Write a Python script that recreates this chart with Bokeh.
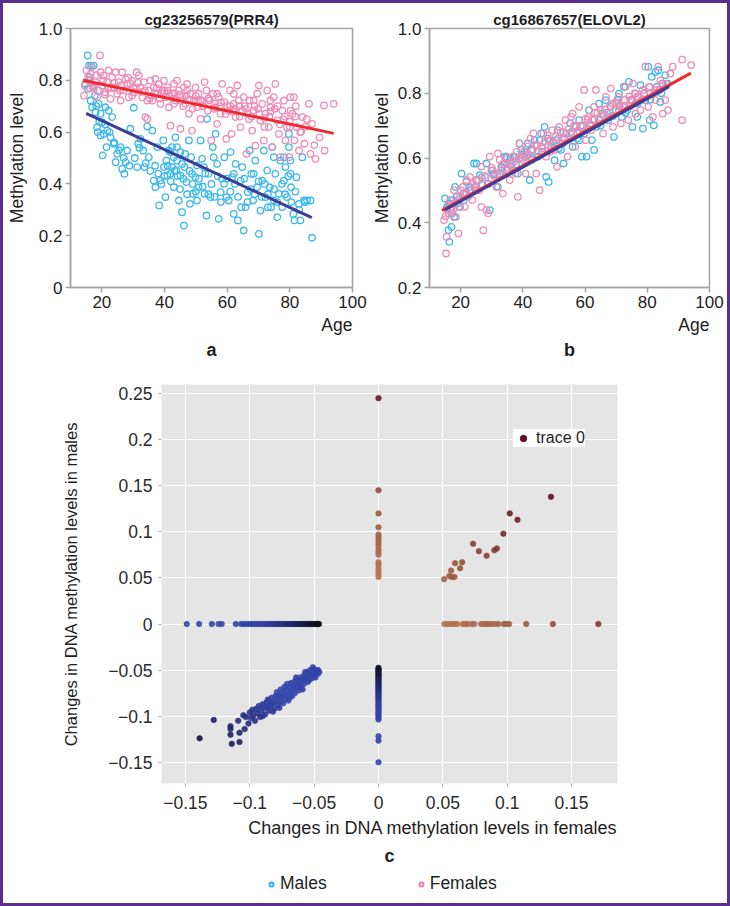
import numpy as np
from bokeh.plotting import figure
from bokeh.layouts import column, row
from bokeh.models import (Title, Legend, LegendItem, FixedTicker, LinearColorMapper,
                          ColumnDataSource, Range1d)
from bokeh.embed import file_html
from bokeh.resources import INLINE

# ---------------- data: panel a (cg23256579 PRR4) ----------------
a_male_age = [15.5, 15.9, 16.6, 17.4, 15.5, 16.4, 16.9, 18.0, 18.5, 18.7, 19.6, 20.3, 21.5, 20.6, 21.7, 21.2,
              23.3, 23.8, 24.4, 24.9, 26.0, 26.5, 27.2, 27.6, 28.1, 29.1, 30.2, 31.3, 31.6, 32.3, 33.2, 33.6,
              34.5, 35.0, 36.1, 36.6, 37.1, 37.7, 38.3, 38.7, 39.6, 40.3, 40.6, 41.4, 41.9, 42.4, 43.0, 43.5,
              44.0, 44.6, 45.1, 45.6, 46.2, 46.4, 47.0, 47.8, 48.1, 48.5, 49.1, 49.9, 50.4, 50.9, 51.5, 52.0,
              52.8, 53.4, 53.6, 54.1, 54.7, 55.4, 56.3, 56.8, 57.3, 57.9, 58.4, 59.1, 59.8, 60.5, 61.1, 61.6,
              62.1, 62.7, 63.4, 64.3, 64.8, 65.3, 65.9, 66.6, 67.2, 67.7, 68.3, 69.0, 69.6, 70.1, 70.6, 71.2,
              71.7, 72.2, 73.0, 73.6, 74.4, 74.9, 75.4, 76.0, 76.5, 77.0, 77.6, 78.1, 78.6, 79.1, 79.7, 80.2,
              80.4, 81.1, 81.5, 82.1, 82.9, 83.4, 84.0, 84.5, 85.5, 86.6, 87.1, 14.8, 16.2, 17.2, 17.8, 19.0,
              19.6, 20.1, 22.2, 22.8, 41.9, 43.0, 44.0, 45.1, 43.8, 45.6, 46.6, 42.4, 40.9, 39.8, 48.8, 50.4,
              52.6, 55.7, 62.1, 68.5, 72.8, 74.9, 78.1, 79.7, 80.2,
              16.0, 17.0, 18.2, 19.2, 21.0, 22.5, 24.0, 25.5, 27.0, 28.8, 30.5, 32.0, 34.0, 35.5, 37.0, 38.0,
              39.0, 40.0, 41.0, 42.0, 43.2, 44.2, 45.0, 46.0, 47.2, 48.0, 49.0, 50.0, 51.0, 52.2, 53.0, 54.0,
              55.0, 56.0, 57.0, 58.0, 59.0, 60.0, 61.0, 62.5, 63.5, 64.5, 65.5, 66.5, 67.5, 68.8, 70.0, 71.0,
              72.0, 73.0, 74.0, 75.0, 76.0, 77.5, 78.5, 79.5, 80.5, 81.8, 83.0, 84.8]
a_male_val = [0.896, 0.857, 0.857, 0.857, 0.767, 0.722, 0.696, 0.677, 0.619, 0.600, 0.587, 0.510, 0.542, 0.593,
              0.606, 0.696, 0.658, 0.555, 0.484, 0.516, 0.542, 0.458, 0.439, 0.484, 0.529, 0.613, 0.694, 0.465,
              0.555, 0.574, 0.529, 0.465, 0.622, 0.503, 0.606, 0.413, 0.387, 0.542, 0.317, 0.413, 0.568, 0.349,
              0.490, 0.529, 0.439, 0.542, 0.387, 0.580, 0.490, 0.336, 0.432, 0.291, 0.239, 0.465, 0.407, 0.568,
              0.323, 0.503, 0.362, 0.426, 0.336, 0.387, 0.568, 0.497, 0.362, 0.278, 0.651, 0.439, 0.349, 0.542,
              0.593, 0.477, 0.265, 0.368, 0.420, 0.503, 0.349, 0.336, 0.523, 0.426, 0.284, 0.477, 0.259, 0.413,
              0.465, 0.220, 0.310, 0.368, 0.529, 0.439, 0.336, 0.490, 0.387, 0.207, 0.297, 0.413, 0.529, 0.349,
              0.310, 0.387, 0.542, 0.336, 0.439, 0.272, 0.362, 0.490, 0.310, 0.413, 0.465, 0.349, 0.593, 0.490,
              0.387, 0.284, 0.259, 0.426, 0.323, 0.259, 0.503, 0.336, 0.336, 0.336, 0.192, 0.786, 0.812, 0.773,
              0.741, 0.709, 0.671, 0.638, 0.683, 0.580, 0.523, 0.503, 0.542, 0.523, 0.452, 0.477, 0.516, 0.465,
              0.432, 0.465, 0.439, 0.471, 0.465, 0.503, 0.439, 0.439, 0.452, 0.503, 0.503, 0.542, 0.439,
              0.800, 0.780, 0.700, 0.640, 0.630, 0.600, 0.560, 0.530, 0.500, 0.470, 0.500, 0.540, 0.480, 0.450,
              0.470, 0.440, 0.400, 0.430, 0.470, 0.410, 0.450, 0.430, 0.380, 0.420, 0.360, 0.450, 0.400, 0.370,
              0.420, 0.390, 0.440, 0.360, 0.400, 0.350, 0.430, 0.330, 0.400, 0.420, 0.370, 0.400, 0.350, 0.310,
              0.420, 0.330, 0.380, 0.360, 0.410, 0.350, 0.400, 0.360, 0.310, 0.380, 0.330, 0.400, 0.360, 0.430,
              0.330, 0.370, 0.300, 0.330]
a_female_age = [14.3, 15.1, 15.9, 16.4, 16.9, 17.4, 18.0, 18.5, 19.4, 19.6, 20.1, 20.6, 21.2, 21.7, 22.2, 22.8,
                23.3, 23.8, 24.4, 24.9, 25.4, 26.0, 26.5, 27.0, 28.1, 28.6, 29.1, 29.7, 30.4, 31.1, 31.8, 32.3,
                32.9, 33.4, 33.9, 34.5, 35.0, 35.5, 36.1, 36.6, 37.1, 37.7, 38.2, 38.7, 39.3, 39.8, 40.3, 40.9,
                41.4, 41.9, 42.4, 43.0, 43.5, 44.0, 44.6, 45.1, 45.6, 46.2, 46.7, 47.2, 47.8, 48.3, 48.8, 49.4,
                49.9, 50.4, 50.9, 51.5, 52.0, 52.8, 53.4, 53.8, 54.5, 54.9, 55.5, 56.3, 56.8, 57.3, 57.9, 58.4,
                59.1, 59.7, 60.3, 60.9, 61.4, 62.1, 62.7, 63.2, 63.7, 64.3, 64.8, 65.3, 66.2, 66.6, 67.2, 68.0,
                68.5, 69.0, 69.6, 70.1, 70.6, 71.2, 71.7, 72.2, 72.8, 73.3, 73.8, 74.4, 74.9, 75.4, 76.0, 76.5,
                77.0, 77.6, 78.1, 78.6, 79.1, 79.8, 80.2, 80.8, 81.3, 81.5, 82.3, 82.9, 84.0, 84.7, 86.1, 86.6,
                87.1, 88.2, 90.9, 91.1, 94.0, 29.7, 34.5, 43.0, 51.5, 56.8, 62.1, 68.5, 73.8, 80.2, 47.2,
                15.6, 17.0, 18.8, 20.9, 23.0, 25.8, 27.7, 30.9, 33.0, 35.8, 37.5, 39.0, 41.0, 42.8, 44.8, 46.0,
                48.0, 50.0, 52.4, 54.0, 55.9, 58.0, 60.0, 61.8, 63.9, 66.0, 67.8, 69.9, 71.9, 73.9, 76.1, 78.0,
                80.0, 81.9, 83.6, 85.4,
                14.5, 16.2, 18.3, 20.4, 22.0, 24.0, 26.3, 28.4, 30.0, 31.5, 33.7, 35.3, 36.9, 38.5, 40.0, 41.6,
                43.3, 45.3, 47.0, 49.0, 50.7, 52.5, 54.2, 56.0, 57.7, 59.5, 61.0, 62.5, 64.0, 65.6, 67.0, 68.7,
                70.3, 71.9, 73.5, 75.2, 76.8, 78.4, 80.0, 81.7, 83.3, 85.0, 87.8, 89.5]
a_female_val = [0.741, 0.838, 0.799, 0.825, 0.851, 0.767, 0.793, 0.735, 0.896, 0.831, 0.780, 0.819, 0.754, 0.793,
                0.838, 0.728, 0.812, 0.773, 0.831, 0.748, 0.793, 0.722, 0.831, 0.761, 0.786, 0.735, 0.786, 0.799,
                0.754, 0.831, 0.819, 0.773, 0.735, 0.793, 0.658, 0.651, 0.761, 0.799, 0.722, 0.773, 0.805, 0.748,
                0.786, 0.709, 0.761, 0.799, 0.735, 0.773, 0.696, 0.625, 0.748, 0.786, 0.722, 0.799, 0.761, 0.613,
                0.735, 0.773, 0.709, 0.786, 0.671, 0.748, 0.606, 0.722, 0.773, 0.696, 0.748, 0.651, 0.722, 0.793,
                0.761, 0.683, 0.722, 0.568, 0.748, 0.696, 0.632, 0.735, 0.671, 0.786, 0.716, 0.574, 0.683, 0.761,
                0.593, 0.709, 0.658, 0.780, 0.722, 0.619, 0.683, 0.735, 0.516, 0.671, 0.722, 0.606, 0.683, 0.548,
                0.748, 0.780, 0.645, 0.709, 0.568, 0.671, 0.761, 0.619, 0.696, 0.542, 0.735, 0.786, 0.645, 0.593,
                0.503, 0.683, 0.722, 0.568, 0.619, 0.503, 0.735, 0.671, 0.735, 0.568, 0.619, 0.529, 0.658, 0.555,
                0.709, 0.516, 0.632, 0.497, 0.703, 0.529, 0.709, 0.741, 0.722, 0.709, 0.722, 0.748, 0.748, 0.722,
                0.722, 0.683, 0.761,
                0.812, 0.780, 0.760, 0.745, 0.770, 0.760, 0.805, 0.770, 0.755, 0.740, 0.770, 0.750, 0.760, 0.730,
                0.745, 0.700, 0.725, 0.740, 0.700, 0.730, 0.690, 0.715, 0.700, 0.680, 0.700, 0.690, 0.660, 0.690,
                0.655, 0.680, 0.700, 0.650, 0.640, 0.700, 0.600, 0.650,
                0.780, 0.770, 0.820, 0.800, 0.770, 0.790, 0.780, 0.810, 0.770, 0.790, 0.760, 0.730, 0.750, 0.730,
                0.760, 0.740, 0.750, 0.720, 0.740, 0.690, 0.720, 0.700, 0.730, 0.710, 0.700, 0.670, 0.700, 0.690,
                0.660, 0.700, 0.650, 0.700, 0.670, 0.620, 0.660, 0.690, 0.630, 0.660, 0.620, 0.660, 0.600, 0.620,
                0.550, 0.580]
a_fit_male_age = [15, 87]
a_fit_male_val = [0.672, 0.270]
a_fit_female_age = [14, 94]
a_fit_female_val = [0.800, 0.595]

# ---------------- data: panel b (cg16867657 ELOVL2) ----------------
b_male_age = [15.0, 15.5, 16.1, 16.4, 17.1, 17.5, 17.9, 18.7, 19.8, 20.9, 21.9, 23.0, 24.3, 25.1, 26.2, 27.0,
              28.3, 29.4, 29.9, 31.0, 32.0, 33.1, 34.2, 35.2, 36.3, 37.4, 38.4, 39.5, 40.6, 41.6, 42.2, 42.7,
              43.8, 44.8, 45.9, 47.0, 47.5, 48.3, 49.1, 50.2, 51.2, 52.3, 53.1, 53.9, 55.2, 56.0, 57.1, 58.1,
              59.0, 59.7, 60.5, 61.3, 62.2, 62.9, 63.7, 64.5, 65.6, 66.7, 67.5, 68.3, 69.3, 70.4, 70.9, 71.8,
              72.5, 73.6, 74.1, 75.2, 76.2, 76.8, 77.8, 78.6, 79.4, 80.3, 80.8, 81.4, 82.1, 82.6, 83.5, 84.2,
              85.0, 85.8, 16.6, 18.2, 20.3, 25.1, 34.7, 38.9, 45.4, 50.7, 58.1, 64.5, 70.9, 76.2,
              15.8, 17.3, 19.0, 21.0, 22.8, 24.8, 26.8, 28.8, 30.4, 32.6, 34.0, 36.0, 37.8, 39.8, 41.2, 43.0,
              44.5, 46.2, 48.0, 49.8, 51.5, 53.5, 55.6, 57.5, 59.3, 61.0, 63.0, 65.0, 67.0, 69.0, 71.0, 73.0,
              75.0, 77.0, 79.0, 81.0, 83.0, 84.6, 86.5]
b_male_val = [0.475, 0.444, 0.377, 0.341, 0.387, 0.470, 0.418, 0.480, 0.449, 0.490, 0.526, 0.511, 0.583, 0.532,
              0.547, 0.516, 0.583, 0.439, 0.562, 0.552, 0.511, 0.573, 0.604, 0.562, 0.573, 0.604, 0.552, 0.625,
              0.604, 0.645, 0.532, 0.625, 0.655, 0.604, 0.676, 0.696, 0.542, 0.526, 0.635, 0.593, 0.686, 0.625,
              0.583, 0.676, 0.707, 0.635, 0.696, 0.717, 0.604, 0.676, 0.604, 0.748, 0.655, 0.625, 0.696, 0.768,
              0.737, 0.779, 0.717, 0.758, 0.665, 0.779, 0.799, 0.727, 0.820, 0.748, 0.835, 0.696, 0.799, 0.727,
              0.825, 0.691, 0.779, 0.882, 0.717, 0.851, 0.701, 0.866, 0.871, 0.773, 0.830, 0.856, 0.459, 0.511,
              0.552, 0.583, 0.604, 0.645, 0.655, 0.655, 0.655, 0.717, 0.748, 0.768,
              0.450, 0.430, 0.460, 0.470, 0.500, 0.510, 0.540, 0.520, 0.550, 0.550, 0.580, 0.600, 0.580, 0.610,
              0.620, 0.600, 0.640, 0.620, 0.660, 0.650, 0.630, 0.660, 0.680, 0.660, 0.700, 0.690, 0.720, 0.700,
              0.740, 0.730, 0.760, 0.740, 0.780, 0.770, 0.800, 0.780, 0.820, 0.800, 0.830]
b_female_age = [14.7, 15.3, 15.5, 16.1, 16.6, 17.1, 17.9, 18.5, 19.3, 19.8, 20.7, 21.4, 21.9, 23.0, 23.8, 24.6,
                25.7, 26.7, 27.3, 28.3, 28.9, 29.4, 30.4, 31.5, 32.6, 33.6, 34.7, 35.8, 36.8, 37.7, 38.4, 39.0,
                40.0, 40.9, 41.6, 42.7, 43.4, 44.3, 45.4, 45.9, 46.6, 47.5, 48.6, 49.4, 50.2, 51.0, 51.7, 52.8,
                53.7, 54.4, 55.2, 56.0, 56.9, 57.6, 58.1, 59.0, 59.7, 60.3, 61.1, 61.9, 62.9, 63.5, 64.3, 65.1,
                65.8, 66.7, 67.5, 68.3, 69.0, 69.9, 70.7, 71.5, 72.2, 73.0, 73.9, 74.6, 75.4, 76.2, 77.1, 77.8,
                78.6, 79.4, 80.3, 81.0, 81.8, 82.6, 83.5, 84.2, 85.0, 85.8, 86.7, 87.4, 88.2, 91.2, 91.2, 94.1,
                21.9, 26.7, 32.0, 36.8, 43.2, 49.6, 55.5, 62.4, 68.8, 75.2,
                16.0, 17.6, 19.0, 20.2, 22.5, 24.0, 25.2, 27.8, 29.0, 30.8, 33.0, 34.2, 35.4, 37.2, 38.8, 40.4,
                42.0, 44.0, 45.0, 47.0, 48.2, 50.6, 52.2, 53.2, 54.8, 57.0, 58.6, 60.8, 62.0, 64.0, 66.2, 68.0,
                70.2, 72.8, 74.2, 76.8, 79.0, 80.8, 83.0, 84.8,
                15.2, 16.8, 18.0, 19.6, 21.2, 23.4, 25.0, 26.0, 28.0, 30.0, 31.8, 33.4, 35.0, 36.5, 38.0, 39.6,
                41.2, 42.4, 44.6, 46.4, 48.0, 49.0, 51.4, 53.0, 54.6, 56.4, 58.2, 60.0, 61.6, 63.2, 64.8, 66.4,
                68.0, 69.6, 71.2, 72.8, 74.4, 76.0, 78.2, 80.6, 82.2, 84.0, 86.0]
b_female_val = [0.408, 0.305, 0.357, 0.429, 0.470, 0.449, 0.501, 0.418, 0.367, 0.480, 0.511, 0.449, 0.490, 0.542,
                0.470, 0.511, 0.532, 0.449, 0.377, 0.439, 0.429, 0.604, 0.562, 0.511, 0.594, 0.490, 0.562, 0.532,
                0.604, 0.552, 0.480, 0.645, 0.594, 0.552, 0.635, 0.594, 0.676, 0.552, 0.501, 0.635, 0.676, 0.604,
                0.655, 0.686, 0.625, 0.573, 0.696, 0.645, 0.717, 0.604, 0.676, 0.737, 0.635, 0.676, 0.758, 0.696,
                0.810, 0.655, 0.727, 0.686, 0.758, 0.810, 0.707, 0.748, 0.676, 0.789, 0.727, 0.815, 0.696, 0.748,
                0.789, 0.707, 0.758, 0.820, 0.717, 0.779, 0.830, 0.737, 0.789, 0.748, 0.810, 0.882, 0.758, 0.799,
                0.727, 0.779, 0.882, 0.840, 0.737, 0.779, 0.748, 0.861, 0.882, 0.904, 0.717, 0.887, 0.532, 0.573,
                0.614, 0.562, 0.625, 0.645, 0.727, 0.717, 0.768, 0.779,
                0.455, 0.440, 0.470, 0.500, 0.480, 0.520, 0.500, 0.545, 0.520, 0.545, 0.560, 0.585, 0.570, 0.590,
                0.600, 0.620, 0.610, 0.640, 0.620, 0.650, 0.640, 0.665, 0.680, 0.660, 0.690, 0.700, 0.700, 0.720,
                0.700, 0.740, 0.730, 0.760, 0.770, 0.760, 0.790, 0.790, 0.800, 0.820, 0.810, 0.830,
                0.420, 0.440, 0.460, 0.450, 0.490, 0.500, 0.530, 0.500, 0.540, 0.570, 0.550, 0.580, 0.600, 0.580,
                0.620, 0.600, 0.610, 0.660, 0.640, 0.630, 0.670, 0.620, 0.660, 0.680, 0.660, 0.700, 0.680, 0.720,
                0.700, 0.740, 0.720, 0.750, 0.740, 0.770, 0.760, 0.780, 0.760, 0.800, 0.780, 0.820, 0.800, 0.810,
                0.830]
b_fit_male_age = [15, 87]
b_fit_male_val = [0.440, 0.820]
b_fit_female_age = [14, 94]
b_fit_female_val = [0.438, 0.862]

age_ticks = [20, 40, 60, 80, 100]
a_yticks = [0, 0.2, 0.4, 0.6, 0.8, 1.0]
a_ylabels = ["0", "0.2", "0.4", "0.6", "0.8", "1.0"]
b_yticks = [0.2, 0.4, 0.6, 0.8, 1.0]
b_ylabels = ["0.2", "0.4", "0.6", "0.8", "1.0"]

# ---------------- data: panel c (changes females vs males) ----------------
c_rowneg_x = [-0.149, -0.1394, -0.1295, -0.1243, -0.1218, -0.1109, -0.1068, -0.1049, -0.1031, -0.1012, -0.0996,
              -0.0981, -0.0962, -0.0948, -0.0931, -0.0917, -0.0899, -0.0884, -0.0869, -0.0851, -0.0838, -0.0822,
              -0.0806, -0.0791, -0.0777, -0.0760, -0.0746, -0.0731, -0.0717, -0.0702, -0.0688, -0.0672, -0.0659,
              -0.0644, -0.0631, -0.0615, -0.0602, -0.0588, -0.0574, -0.0561, -0.0547, -0.0533, -0.0521, -0.0508,
              -0.0495, -0.0483, -0.0471, -0.0462]
c_colneg_y = [-0.0475, -0.0489, -0.0502, -0.0517, -0.0531, -0.0546, -0.0559, -0.0573, -0.0588, -0.0602, -0.0617,
              -0.0631, -0.0646, -0.0661, -0.0675, -0.0690, -0.0704, -0.0719, -0.0733, -0.0748, -0.0763, -0.0778,
              -0.0792, -0.0807, -0.0822, -0.0838, -0.0853, -0.0869, -0.0884, -0.0899, -0.0914, -0.0931, -0.0948,
              -0.0963, -0.0981, -0.0998, -0.1016, -0.1036, -0.1217, -0.1265, -0.150]
c_rowpos_x = [0.0512, 0.053, 0.055, 0.057, 0.059, 0.061, 0.0655, 0.0673, 0.0694, 0.0727, 0.0745, 0.0797, 0.0818,
              0.0836, 0.0854, 0.0875, 0.090, 0.093, 0.0974, 0.0994, 0.1015, 0.1148, 0.1355, 0.1708]
c_colpos_y = [0.245, 0.145, 0.12, 0.105, 0.097, 0.094, 0.091, 0.088, 0.085, 0.081, 0.078, 0.075, 0.067, 0.064,
              0.060, 0.057, 0.054, 0.051]
c_diagpos_x = [0.134, 0.102, 0.108, 0.097, 0.0735, 0.078, 0.084, 0.090, 0.092, 0.0595, 0.065, 0.0634, 0.0564,
               0.055, 0.057, 0.059, 0.051]
c_diagpos_y = [0.138, 0.120, 0.113, 0.098, 0.087, 0.079, 0.074, 0.080, 0.082, 0.066, 0.067, 0.0605, 0.058,
               0.052, 0.051, 0.051, 0.0486]
c_diagneg_x = [-0.139, -0.128, -0.115, -0.115, -0.115, -0.114, -0.109, -0.108, -0.108, -0.104, -0.105, -0.103,
               -0.101, -0.100, -0.099, -0.098, -0.097, -0.096, -0.095, -0.094, -0.093, -0.092, -0.091, -0.090,
               -0.089, -0.088, -0.087, -0.086, -0.085, -0.085, -0.084, -0.083, -0.082, -0.081, -0.080, -0.080,
               -0.079, -0.078, -0.078, -0.077, -0.076, -0.076, -0.075, -0.074, -0.074, -0.073, -0.073, -0.072,
               -0.071, -0.071, -0.070, -0.070, -0.069, -0.068, -0.068, -0.067, -0.066, -0.066, -0.065, -0.065,
               -0.064, -0.063, -0.063, -0.062, -0.061, -0.061, -0.060, -0.060, -0.059, -0.058, -0.058, -0.057,
               -0.056, -0.056, -0.055, -0.055, -0.054, -0.053, -0.053, -0.052, -0.052, -0.051, -0.050, -0.050,
               -0.049, -0.048, -0.047, -0.047, -0.046, -0.082, -0.090, -0.086, -0.077, -0.069, -0.064, -0.059,
               -0.054, -0.049, -0.051, -0.057]
c_diagneg_y = [-0.124, -0.104, -0.111, -0.114, -0.120, -0.130, -0.105, -0.118, -0.128, -0.114, -0.099, -0.101,
               -0.108, -0.096, -0.102, -0.093, -0.099, -0.105, -0.092, -0.097, -0.089, -0.101, -0.094, -0.087,
               -0.091, -0.098, -0.085, -0.090, -0.083, -0.094, -0.088, -0.080, -0.086, -0.092, -0.078, -0.084,
               -0.074, -0.081, -0.088, -0.077, -0.071, -0.084, -0.079, -0.073, -0.086, -0.068, -0.077, -0.081,
               -0.072, -0.065, -0.076, -0.083, -0.069, -0.074, -0.064, -0.078, -0.067, -0.071, -0.062, -0.075,
               -0.069, -0.065, -0.060, -0.072, -0.066, -0.058, -0.063, -0.069, -0.060, -0.056, -0.065, -0.061,
               -0.058, -0.054, -0.063, -0.052, -0.057, -0.055, -0.050, -0.059, -0.053, -0.051, -0.056, -0.049,
               -0.053, -0.051, -0.050, -0.054, -0.052, -0.095, -0.100, -0.082, -0.091, -0.080, -0.058, -0.071,
               -0.061, -0.058, -0.047, -0.052]
c_xticks = [-0.15, -0.1, -0.05, 0, 0.05, 0.1, 0.15]
c_xlabels = ["\u22120.15", "\u22120.1", "\u22120.05", "0", "0.05", "0.1", "0.15"]
c_yticks = [-0.15, -0.1, -0.05, 0, 0.05, 0.1, 0.15, 0.2, 0.25]
c_ylabels = ["\u22120.15", "\u22120.1", "\u22120.05", "0", "0.05", "0.1", "0.15", "0.2", "0.25"]

# ---------------- styling ----------------
FONT = "Liberation Sans"
CYAN = "#3ab8ea"
PINK = "#ee8ab6"
RED = "#ec2a2e"
NAVY = "#3d3d97"
GRAY = "#a3a3a3"
TXT = "#1e1e1e"
PURPLE = "#5b2d8e"
NAN = [float("nan")]   # legend-only renderers draw nothing in the plot


def style_ab(p, yticks, ylabels, label_standoff):
    p.xaxis.ticker = FixedTicker(ticks=age_ticks)
    p.xaxis.major_label_overrides = {t: str(t) for t in age_ticks}
    p.yaxis.ticker = FixedTicker(ticks=yticks)
    p.yaxis.major_label_overrides = dict(zip(yticks, ylabels))
    for ax in (p.xaxis[0], p.yaxis[0]):
        ax.axis_line_color = GRAY
        ax.axis_line_width = 1.5
        ax.major_tick_line_color = GRAY
        ax.major_tick_line_width = 1.5
        ax.major_tick_out = 5
        ax.major_tick_in = 0
        ax.minor_tick_line_color = None
        ax.major_label_text_font = FONT
        ax.major_label_text_font_size = "17px"
        ax.major_label_text_color = TXT
        ax.major_label_standoff = 3
    p.yaxis.axis_label = "Methylation level"
    p.yaxis.axis_label_text_font = FONT
    p.yaxis.axis_label_text_font_size = "17.5px"
    p.yaxis.axis_label_text_font_style = "normal"
    p.yaxis.axis_label_text_color = TXT
    p.yaxis.axis_label_standoff = label_standoff
    p.xgrid.visible = False
    p.ygrid.visible = False
    p.outline_line_color = GRAY
    p.outline_line_width = 1.5
    p.title.align = "center"
    p.title.text_font = FONT
    p.title.text_font_size = "15px"
    p.title.text_font_style = "bold"
    p.title.text_color = TXT
    p.title.standoff = 2


def add_below(p, age_text, letter):
    p.add_layout(Title(text=age_text, align="right", text_font=FONT, text_font_size="17.5px",
                       text_font_style="normal", text_color=TXT, standoff=5), "below")
    p.add_layout(Title(text=letter, align="center", text_font=FONT, text_font_size="18px",
                       text_font_style="bold", text_color=TXT, standoff=0), "below")


# panel a
pa = figure(width=365, height=359, x_range=Range1d(10, 100), y_range=Range1d(0, 1),
            title="cg23256579(PRR4)", output_backend="svg", toolbar_location=None,
            min_border_left=67, min_border_right=16, min_border_top=25, min_border_bottom=75)
style_ab(pa, a_yticks, a_ylabels, 9)
pa.scatter(a_male_age, a_male_val, marker="circle", size=6.5, fill_color=None, line_color=CYAN, line_width=1.3)
pa.scatter(a_female_age, a_female_val, marker="circle", size=6.5, fill_color=None, line_color=PINK, line_width=1.3)
pa.line(a_fit_female_age, a_fit_female_val, line_color=RED, line_width=3)
pa.line(a_fit_male_age, a_fit_male_val, line_color=NAVY, line_width=3)
add_below(pa, "Age", "a")

# panel b
pb = figure(width=359, height=359, x_range=Range1d(10, 100), y_range=Range1d(0.2, 1),
            title="cg16867657(ELOVL2)", output_backend="svg", toolbar_location=None,
            min_border_left=60, min_border_right=18, min_border_top=25, min_border_bottom=75)
style_ab(pb, b_yticks, b_ylabels, 3)
pb.scatter(b_male_age, b_male_val, marker="circle", size=6.5, fill_color=None, line_color=CYAN, line_width=1.3)
pb.scatter(b_female_age, b_female_val, marker="circle", size=6.5, fill_color=None, line_color=PINK, line_width=1.3)
pb.line(b_fit_female_age, b_fit_female_val, line_color=RED, line_width=3)
pb.line(b_fit_male_age, b_fit_male_val, line_color=NAVY, line_width=3)
add_below(pb, "Age", "b")

# panel c
cx = (c_rowneg_x + [0.0] * len(c_colneg_y) + c_rowpos_x + [0.0] * len(c_colpos_y) + c_diagpos_x + c_diagneg_x)
cy = ([0.0] * len(c_rowneg_x) + c_colneg_y + [0.0] * len(c_rowpos_x) + c_colpos_y + c_diagpos_y + c_diagneg_y)
cx = np.array(cx)
cy = np.array(cy)
src_c = ColumnDataSource(dict(x=cx, y=cy, s=cx + cy))

anchors = [(-0.27, "#121230"), (-0.22, "#212a78"), (-0.15, "#3646ae"), (-0.09, "#3343a6"),
           (-0.065, "#1e2560"), (-0.045, "#0d0d16"), (0.0, "#0d0d16"), (0.045, "#b87a55"),
           (0.12, "#9a583e"), (0.2, "#74282c"), (0.28, "#5a0e20")]


def hex2rgb(h):
    return tuple(int(h[i:i + 2], 16) for i in (1, 3, 5))


lo, hi = anchors[0][0], anchors[-1][0]
palette = []
for k in range(256):
    v = lo + (hi - lo) * k / 255
    for (v0, c0), (v1, c1) in zip(anchors[:-1], anchors[1:]):
        if v0 <= v <= v1:
            f = (v - v0) / (v1 - v0) if v1 > v0 else 0
            r0, r1 = hex2rgb(c0), hex2rgb(c1)
            palette.append("#%02x%02x%02x" % tuple(int(round(a + (b - a) * f)) for a, b in zip(r0, r1)))
            break
mapper = LinearColorMapper(palette=palette, low=lo, high=hi)

pc = figure(width=724, height=511, x_range=Range1d(-0.1686, 0.1857), y_range=Range1d(-0.173, 0.2598),
            output_backend="svg", toolbar_location=None,
            min_border_left=158, min_border_right=110, min_border_top=22, min_border_bottom=90)
pc.background_fill_color = "#e5e5e5"
pc.outline_line_color = None
pc.xgrid.grid_line_color = "white"
pc.ygrid.grid_line_color = "white"
pc.xgrid.grid_line_width = 1
pc.ygrid.grid_line_width = 1
pc.xaxis.ticker = FixedTicker(ticks=c_xticks)
pc.xaxis.major_label_overrides = dict(zip(c_xticks, c_xlabels))
pc.yaxis.ticker = FixedTicker(ticks=c_yticks)
pc.yaxis.major_label_overrides = dict(zip(c_yticks, c_ylabels))
for ax in (pc.xaxis[0], pc.yaxis[0]):
    ax.axis_line_color = None
    ax.major_tick_line_color = "#b0b0b0"
    ax.major_tick_out = 3
    ax.major_tick_in = 0
    ax.minor_tick_line_color = None
    ax.major_label_text_font = FONT
    ax.major_label_text_font_size = "17.5px"
    ax.major_label_text_color = "#2a2a2a"
pc.xaxis.major_label_standoff = 9
pc.yaxis.major_label_standoff = 6
pc.yaxis.axis_label = "Changes in DNA methylation levels in males"
pc.yaxis.axis_label_text_font = FONT
pc.yaxis.axis_label_text_font_size = "16.5px"
pc.yaxis.axis_label_text_font_style = "normal"
pc.yaxis.axis_label_text_color = TXT
pc.yaxis.axis_label_standoff = 25

pc.scatter("x", "y", source=src_c, marker="circle", size=5.5,
           fill_color={"field": "s", "transform": mapper},
           line_color={"field": "s", "transform": mapper}, line_width=0.6, fill_alpha=0.9)

pc.add_layout(Title(text="Changes in DNA methylation levels in females", align="right", text_font=FONT,
                    text_font_size="18px", text_font_style="normal", text_color=TXT, standoff=8), "below")
pc.add_layout(Title(text="c", align="center", text_font=FONT, text_font_size="18px",
                    text_font_style="bold", text_color=TXT, standoff=5), "below")

r_trace = pc.scatter(x=NAN, y=NAN, marker="circle", size=4.5, fill_color="#5a1020", line_color="#5a1020")
leg_in = Legend(items=[LegendItem(label="trace 0", renderers=[r_trace])], location=(352, 336),
                orientation="vertical", background_fill_color="white", background_fill_alpha=1,
                border_line_color=None, padding=5, margin=0, spacing=0, glyph_width=20, glyph_height=16,
                label_height=16, label_standoff=3, label_text_font=FONT, label_text_font_size="16px",
                label_text_color=TXT)
pc.add_layout(leg_in, "center")

# bottom legend strip (its frame is aligned with panel c's frame by the column)
pl = figure(width=724, height=30, x_range=Range1d(0, 1), y_range=Range1d(0, 1),
            x_axis_type=None, y_axis_type=None, output_backend="svg", toolbar_location=None,
            min_border_left=0, min_border_right=0, min_border_top=0, min_border_bottom=0)
pl.outline_line_color = None
pl.xgrid.visible = False
pl.ygrid.visible = False
r_m = pl.scatter(x=NAN, y=NAN, marker="circle", size=7, fill_color=None, line_color="#29b5ef", line_width=2)
r_f = pl.scatter(x=NAN, y=NAN, marker="circle", size=7, fill_color=None, line_color="#f07ab4", line_width=2)
leg_b = Legend(items=[LegendItem(label="Males", renderers=[r_m]), LegendItem(label="Females", renderers=[r_f])],
               orientation="horizontal", location=(105, 9), border_line_color=None,
               background_fill_alpha=0, padding=0, margin=0, spacing=89, glyph_width=10, glyph_height=18,
               label_height=18, label_standoff=4, label_text_font=FONT, label_text_font_size="17.5px",
               label_text_color=TXT)
pl.add_layout(leg_b, "center")

layout = column(row(pa, pb), pc, pl, styles={"border": "3px solid " + PURPLE})

open("out.html", "w").write(file_html(layout, INLINE))
